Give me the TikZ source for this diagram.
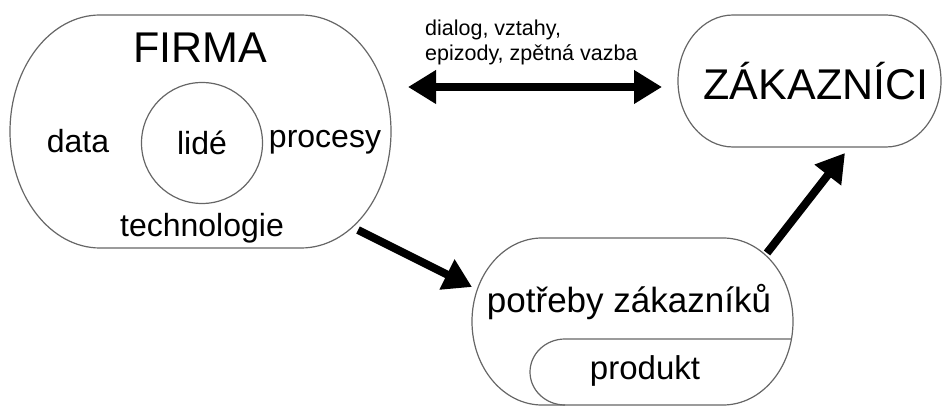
\documentclass[tikz,border=0pt]{standalone}
\usepackage{fontspec}
\setmainfont{Liberation Sans}
\usetikzlibrary{arrows.meta,positioning}
\tikzset{stadiumline/.style={draw=black!60,line width=1.2pt},
    circly/.style={stadiumline,circle,minimum size=121pt,inner sep=0},
    bigword/.style={inner sep=0,font=\fontsize{43}{50}\selectfont},
    word/.style={inner sep=0,font=\fontsize{32}{38}\selectfont},
    smallword/.style={inner sep=0,align=left,font=\fontsize{21.5}{25}\selectfont},
    fatarrow/.style={line width=8pt,-{Triangle[length=28pt,width=32pt]}},
    fatdoublearrow/.style={line width=8pt,{Triangle[length=28pt,width=32pt]}-{Triangle[length=28pt,width=32pt]}}
}
\newcommand{\stadium}[5]
{
% args: (left x, bottom y, right x, top y, x radius of the rounded ends)
    \pgfmathsetmacro\stadiumry{((#4)-(#2))/2}
    \draw [stadiumline] ({#1+#5},#4) -- ({#3-#5},#4)
        arc [start angle=90,end angle=-90,x radius=#5pt,y radius=\stadiumry pt]
        -- ({#1+#5},#2)
        arc [start angle=270,end angle=90,x radius=#5pt,y radius=\stadiumry pt] -- cycle;
}
\begin{document}
\begin{tikzpicture}[x=1pt,y=1pt]
\useasboundingbox (0,0) rectangle (943,407);

% firma

\stadium{10}{159}{391}{392}{90}
\node (firma) [bigword,anchor=base] at (200,344) {FIRMA};
\node (data) [word,anchor=base] at (78,254) {data};
\node (lide) [circly,word] at (202,264) {lidé};
\node (procesy) [word,anchor=base] at (325,259) {procesy};
\node (technologie) [word,anchor=base] at (202,170) {technologie};

% zakaznici

\stadium{678}{260}{941}{392}{55}
\node (zakaznici) [bigword,anchor=base] at (816,307) {ZÁKAZNÍCI};

% potreby and produkt

\stadium{472}{2}{793}{169}{70}
\draw [stadiumline] (791,68) -- (565,68) arc [start angle=90,end angle=270,x radius=35pt,y radius=33pt];
\node (potreby) [word,font=\fontsize{35}{40}\selectfont,anchor=base] at (629,94) {potřeby zákazníků};
\node (produkt) [word,font=\fontsize{33}{38}\selectfont,anchor=base] at (645,27) {produkt};

% arrows

\node (dialog) [smallword,anchor=north west] at (425,387) {dialog, vztahy,\\epizody, zpětná vazba};

\coordinate (dialogWest) at (408,320);
\coordinate (dialogEast) at (662,320);
\coordinate (firmaOut) at (358,177);
\coordinate (potrebyIn) at (472,120);
\coordinate (potrebyOut) at (767,154);
\coordinate (zakazniciIn) at (845,254);

\draw [fatdoublearrow] (dialogWest) -- (dialogEast);
\draw [fatarrow] (firmaOut) -- (potrebyIn);
\draw [fatarrow] (potrebyOut) -- (zakazniciIn);

\end{tikzpicture}
\end{document}
